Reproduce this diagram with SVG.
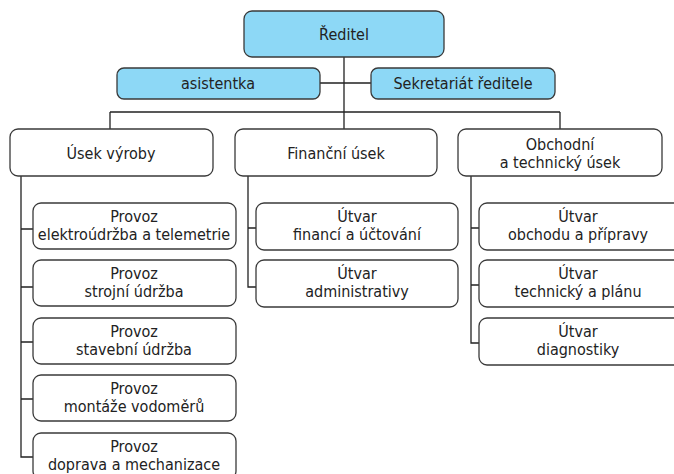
<svg xmlns="http://www.w3.org/2000/svg" width="674" height="474" viewBox="0 0 674 474">
<style>
.b{fill:#fff;stroke:#3a3a3a;stroke-width:1.3}
.h{fill:#8dd8f6;stroke:#3a3a3a;stroke-width:1.3}
.t{font-family:"Liberation Sans Narrow","DejaVu Sans Condensed","Liberation Sans",sans-serif;font-size:16px;fill:#222;text-anchor:middle}
.c{fill:none;stroke:#222;stroke-width:1.3}
</style>
<rect width="674" height="474" fill="#fff"/>
<g id="connectors">
<path class="c" d="M344 57V129M320 83H371M110 112H560M110 112V129M560 112V129"/>
<path class="c" d="M21 176V457H33M21 229H33M21 287H33M21 342H33M21 399H33"/>
<path class="c" d="M248 176V287H256M248 228H256"/>
<path class="c" d="M471 176V343H479M471 228H479M471 285H479"/>
</g>
<g id="reditel"><rect class="h" x="244" y="11" width="200" height="46" rx="8"/><text class="t" x="344" y="40">Ředitel</text></g>
<g id="asistentka"><rect class="h" x="117" y="68" width="203" height="31" rx="7"/><text class="t" x="218" y="89">asistentka</text></g>
<g id="sekretariat"><rect class="h" x="371" y="68" width="184" height="31" rx="7"/><text class="t" x="463" y="89">Sekretariát ředitele</text></g>
<g id="usek-vyroby"><rect class="b" x="10" y="129" width="203" height="47" rx="8"/><text class="t" x="111" y="159">Úsek výroby</text></g>
<g id="financni-usek"><rect class="b" x="235" y="129" width="202" height="47" rx="8"/><text class="t" x="336" y="159">Finanční úsek</text></g>
<g id="obchodni-usek"><rect class="b" x="458" y="129" width="204" height="47" rx="8"/><text class="t" x="560" y="150">Obchodní</text><text class="t" x="560" y="168">a technický úsek</text></g>
<g id="p1"><rect class="b" x="33" y="203" width="203" height="46" rx="8"/><text class="t" x="134" y="222">Provoz</text><text class="t" x="134" y="240">elektroúdržba a telemetrie</text></g>
<g id="p2"><rect class="b" x="33" y="260" width="203" height="46" rx="8"/><text class="t" x="134" y="279">Provoz</text><text class="t" x="134" y="297">strojní údržba</text></g>
<g id="p3"><rect class="b" x="33" y="318" width="203" height="46" rx="8"/><text class="t" x="134" y="337">Provoz</text><text class="t" x="134" y="355">stavební údržba</text></g>
<g id="p4"><rect class="b" x="33" y="375" width="203" height="46" rx="8"/><text class="t" x="134" y="394">Provoz</text><text class="t" x="134" y="412">montáže vodoměrů</text></g>
<g id="p5"><rect class="b" x="33" y="433" width="203" height="46" rx="8"/><text class="t" x="134" y="452">Provoz</text><text class="t" x="134" y="470">doprava a mechanizace</text></g>
<g id="f1"><rect class="b" x="256" y="203" width="202" height="47" rx="8"/><text class="t" x="357" y="222">Útvar</text><text class="t" x="357" y="240">financí a účtování</text></g>
<g id="f2"><rect class="b" x="256" y="260" width="202" height="47" rx="8"/><text class="t" x="357" y="279">Útvar</text><text class="t" x="357" y="297">administrativy</text></g>
<g id="o1"><rect class="b" x="479" y="203" width="203" height="47" rx="8"/><text class="t" x="578" y="222">Útvar</text><text class="t" x="578" y="240">obchodu a přípravy</text></g>
<g id="o2"><rect class="b" x="479" y="260" width="203" height="47" rx="8"/><text class="t" x="578" y="279">Útvar</text><text class="t" x="578" y="297">technický a plánu</text></g>
<g id="o3"><rect class="b" x="479" y="318" width="203" height="47" rx="8"/><text class="t" x="578" y="337">Útvar</text><text class="t" x="578" y="355">diagnostiky</text></g>
</svg>
